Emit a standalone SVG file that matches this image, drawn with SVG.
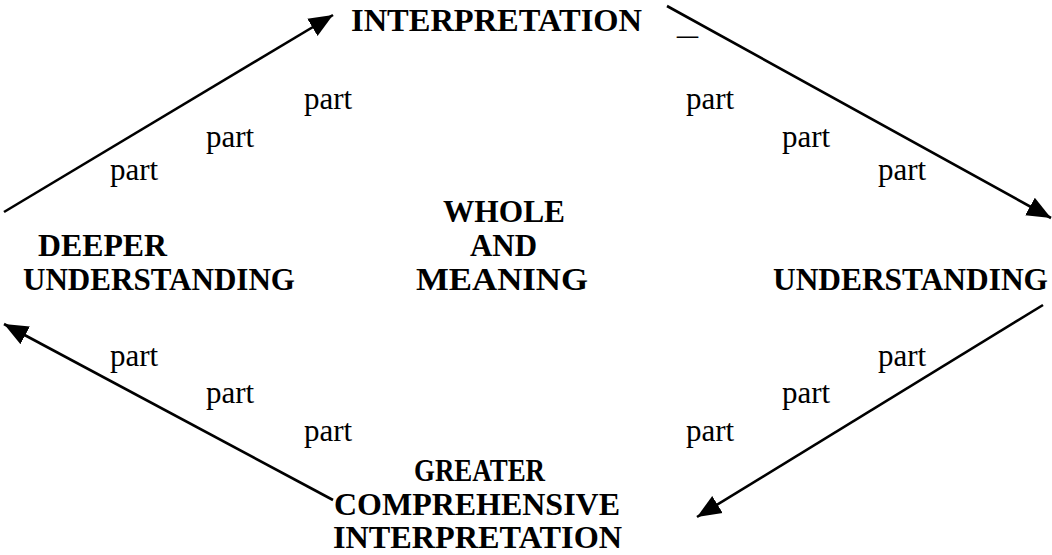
<svg xmlns="http://www.w3.org/2000/svg" width="1052" height="555" viewBox="0 0 1052 555">
<defs>
<style>
.b{font-family:"Liberation Serif","Times New Roman",serif;font-weight:bold;font-size:32px;fill:#000}
.p{font-family:"Liberation Serif","Times New Roman",serif;font-size:31px;fill:#000}
.c{stroke:#000;stroke-width:2.6;fill:none}
</style>
<marker id="ah" markerUnits="userSpaceOnUse" markerWidth="26" markerHeight="22" refX="24" refY="11" orient="auto" viewBox="0 0 26 22">
<path d="M0,1 L24,11 L0,21 z" fill="#000"/>
</marker>
</defs>
<rect width="1052" height="555" fill="#fff"/>
<g id="connectors">
<line class="c" x1="4" y1="212" x2="333" y2="15" marker-end="url(#ah)"/>
<line class="c" x1="667" y1="6" x2="1051" y2="218" marker-end="url(#ah)"/>
<line class="c" x1="1043" y1="305" x2="697" y2="517" marker-end="url(#ah)"/>
<line class="c" x1="333" y1="500" x2="4" y2="324" marker-end="url(#ah)"/>
</g>
<g id="interpretation">
<text class="b" x="351" y="31" textLength="291" lengthAdjust="spacingAndGlyphs">INTERPRETATION</text>
<text class="b" x="677" y="34" textLength="21" lengthAdjust="spacingAndGlyphs" style="font-weight:normal">_</text>
</g>
<g id="whole">
<text class="b" x="443" y="222" textLength="122" lengthAdjust="spacingAndGlyphs">WHOLE</text>
<text class="b" x="470" y="256" textLength="67" lengthAdjust="spacingAndGlyphs">AND</text>
<text class="b" x="416" y="290" textLength="172" lengthAdjust="spacingAndGlyphs">MEANING</text>
</g>
<g id="deeper">
<text class="b" x="38" y="256" textLength="129" lengthAdjust="spacingAndGlyphs">DEEPER</text>
<text class="b" x="23" y="290" textLength="272" lengthAdjust="spacingAndGlyphs">UNDERSTANDING</text>
</g>
<g id="understanding">
<text class="b" x="773" y="290" textLength="275" lengthAdjust="spacingAndGlyphs">UNDERSTANDING</text>
</g>
<g id="greater">
<text class="b" x="414" y="481" textLength="131" lengthAdjust="spacingAndGlyphs">GREATER</text>
<text class="b" x="334" y="515" textLength="286" lengthAdjust="spacingAndGlyphs">COMPREHENSIVE</text>
<text class="b" x="333" y="548" textLength="289" lengthAdjust="spacingAndGlyphs">INTERPRETATION</text>
</g>
<g id="parts">
<text class="p" x="304" y="109">part</text>
<text class="p" x="206" y="147">part</text>
<text class="p" x="110" y="180">part</text>
<text class="p" x="686" y="109">part</text>
<text class="p" x="782" y="147">part</text>
<text class="p" x="878" y="180">part</text>
<text class="p" x="110" y="366">part</text>
<text class="p" x="206" y="403">part</text>
<text class="p" x="304" y="441">part</text>
<text class="p" x="878" y="366">part</text>
<text class="p" x="782" y="403">part</text>
<text class="p" x="686" y="441">part</text>
</g>
</svg>
